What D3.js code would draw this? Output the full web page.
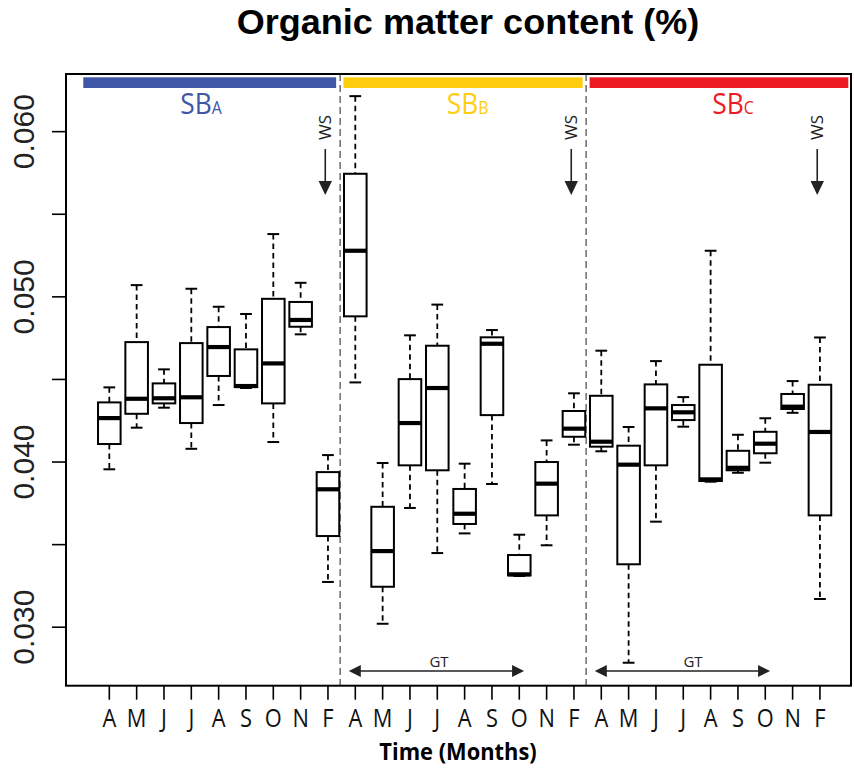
<!DOCTYPE html>
<html><head><meta charset="utf-8">
<script src="https://cdn.jsdelivr.net/npm/d3@7"></script>
<style>body{margin:0;background:#fff}</style>
</head><body>
<svg id="c" width="854" height="770"></svg>
<script>
// ---- data ----
const months = ["A","M","J","J","A","S","O","N","F"];
const sites = ["A","B","C"];
const siteColors = ["#3F57A6","#FDCD0E","#ED1C24"];
const whiskerLow  = [0.03953,0.04205,0.04326,0.04077,0.04342,0.04445,0.04118,0.04770,0.03271,
                     0.04479,0.03018,0.03719,0.03446,0.03565,0.03864,0.03307,0.03493,0.04102,
                     0.04062,0.02782,0.03636,0.04211,0.03878,0.03932,0.03993,0.04295,0.03168];
const q1          = [0.04106,0.04289,0.04352,0.04233,0.04518,0.04451,0.04352,0.04816,0.03549,
                     0.04879,0.03242,0.03977,0.03947,0.03622,0.04281,0.03311,0.03674,0.04150,
                     0.04090,0.03378,0.03977,0.04251,0.03882,0.03947,0.04050,0.04318,0.03674];
const median      = [0.04263,0.04380,0.04383,0.04389,0.04693,0.04457,0.04594,0.04857,0.03832,
                     0.05276,0.03458,0.04233,0.04445,0.03684,0.04713,0.03317,0.03866,0.04199,
                     0.04120,0.03981,0.04322,0.04298,0.03892,0.03962,0.04108,0.04332,0.04179];
const q3          = [0.04358,0.04723,0.04473,0.04717,0.04814,0.04679,0.04985,0.04966,0.03936,
                     0.05742,0.03726,0.04499,0.04701,0.03834,0.04752,0.03434,0.03997,0.04306,
                     0.04398,0.04096,0.04467,0.04342,0.04586,0.04065,0.04180,0.04409,0.04465];
const whiskerHigh = [0.04449,0.05068,0.04558,0.05046,0.04937,0.04893,0.05377,0.05082,0.04039,
                     0.06212,0.03991,0.04764,0.04950,0.03987,0.04796,0.03557,0.04128,0.04413,
                     0.04671,0.04209,0.04608,0.04390,0.05276,0.04162,0.04262,0.04487,0.04751];
const yTickValues = [0.030,0.035,0.040,0.045,0.050,0.055,0.060];
const yLabelValues = [0.030,0.040,0.050,0.060];
const title = "Organic matter content (%)";
const xTitle = "Time (Months)";

// ---- build ----
const categories = [];
sites.forEach((s,si)=>months.forEach((m,mi)=>categories.push({site:s, si, month:m, idx:si*months.length+mi})));
const boxes = categories.map((c,i)=>({...c, lo:whiskerLow[i], q1:q1[i], med:median[i], q3:q3[i], hi:whiskerHigh[i]}));

const svg = d3.select("#c");
const L = 66, R = 851, T = 74, B = 685.7;

const x = d3.scaleBand().domain(d3.range(categories.length)).range([95.65, 833.6]).paddingInner(0).paddingOuter(0);
const y = d3.scaleLinear().domain([0.02643, 0.06346]).range([B, T]);
const cx = i => x(i) + x.bandwidth()/2;
const boxW = x.bandwidth()*0.826, capW = x.bandwidth()*0.43;

// separators
const seps = [x(9)-1.5, x(18)-1.5];
svg.selectAll("line.sep").data(seps).join("line")
  .attr("x1",d=>d).attr("x2",d=>d).attr("y1",T).attr("y2",B)
  .attr("stroke","#555").attr("stroke-width",1.3).attr("stroke-dasharray","7,4");

// site colored bars
const barStart = [L+17.3, seps[0]+3.3, seps[1]+3.5];
const barEnd = [seps[0]-4, seps[1]-3.5, R-2.7];
svg.selectAll("rect.site").data(sites).join("rect")
  .attr("x",(d,i)=>barStart[i]).attr("width",(d,i)=>barEnd[i]-barStart[i])
  .attr("y",77.3).attr("height",10.7).attr("fill",(d,i)=>siteColors[i]);

const labelX = [201, 467.7, 733];
const sl = svg.selectAll("text.site").data(sites).join("text")
  .attr("transform",(d,i)=>`translate(${labelX[i]},114) scale(0.88,1)`)
  .attr("text-anchor","middle").attr("font-family","'Open Sans'")
  .attr("fill",(d,i)=>siteColors[i]);
sl.append("tspan").attr("font-size",30).text("SB");
sl.append("tspan").attr("font-size",18).text(d=>d);

// WS arrows
const wsIdx = [8,17,26];
const ws = svg.selectAll("g.ws").data(wsIdx).join("g").attr("transform",d=>`translate(${cx(d)-2.7},0)`);
ws.append("text").attr("transform","translate(6,127.5) rotate(-90)").attr("text-anchor","middle")
  .attr("font-family","'Open Sans'").attr("font-size",17).attr("fill","#222").text("WS");
ws.append("line").attr("x1",0).attr("x2",0).attr("y1",149).attr("y2",183).attr("stroke","#222").attr("stroke-width",1.6);
ws.append("path").attr("d","M-6.7,181 L6.7,181 L0,195 Z").attr("fill","#222");

// GT arrows
const gtRanges = [[9,15],[18,24]];
const gtTextX = [439, 693];
const gt = svg.selectAll("g.gt").data(gtRanges).join("g");
gt.each(function(d,i){
  const g = d3.select(this);
  const x1 = cx(d[0])-6.5, x2 = cx(d[1])+4.8, yy = 671;
  g.append("line").attr("x1",x1+8).attr("x2",x2-8).attr("y1",yy).attr("y2",yy).attr("stroke","#222").attr("stroke-width",1.6);
  g.append("path").attr("d",`M${x1},${yy} L${x1+12},${yy-6} L${x1+12},${yy+6} Z`).attr("fill","#222");
  g.append("path").attr("d",`M${x2},${yy} L${x2-12},${yy-6} L${x2-12},${yy+6} Z`).attr("fill","#222");
  g.append("text").attr("x",gtTextX[i]).attr("y",666.5).attr("text-anchor","middle")
    .attr("font-family","'Open Sans'").attr("font-size",15).attr("fill","#222").text("GT");
});

// boxes
const bg = svg.selectAll("g.box").data(boxes).join("g").attr("transform",d=>`translate(${cx(d.idx)},0)`);
bg.append("line").attr("y1",d=>y(d.hi)).attr("y2",d=>y(d.q3)).attr("stroke","#000").attr("stroke-width",1.8).attr("stroke-dasharray","5.5,4");
bg.append("line").attr("y1",d=>y(d.q1)).attr("y2",d=>y(d.lo)).attr("stroke","#000").attr("stroke-width",1.8).attr("stroke-dasharray","5.5,4");
bg.append("line").attr("x1",-capW/2).attr("x2",capW/2).attr("y1",d=>y(d.hi)).attr("y2",d=>y(d.hi)).attr("stroke","#000").attr("stroke-width",2);
bg.append("line").attr("x1",-capW/2).attr("x2",capW/2).attr("y1",d=>y(d.lo)).attr("y2",d=>y(d.lo)).attr("stroke","#000").attr("stroke-width",2);
bg.append("rect").attr("x",-boxW/2).attr("width",boxW).attr("y",d=>y(d.q3)).attr("height",d=>y(d.q1)-y(d.q3))
  .attr("fill","#fff").attr("stroke","#000").attr("stroke-width",2);
bg.append("line").attr("x1",-boxW/2).attr("x2",boxW/2).attr("y1",d=>y(d.med)).attr("y2",d=>y(d.med)).attr("stroke","#000").attr("stroke-width",4.2);

// frame
svg.append("rect").attr("x",L).attr("y",T).attr("width",R-L).attr("height",B-T).attr("fill","none").attr("stroke","#000").attr("stroke-width",2);

// y axis
const ya = svg.append("g").attr("transform",`translate(${L},0)`)
  .call(d3.axisLeft(y).tickValues(yTickValues).tickSize(14).tickFormat(d=>yLabelValues.some(v=>Math.abs(v-d)<1e-9)?d3.format(".3f")(d):""));
ya.select(".domain").remove();
ya.selectAll(".tick line").attr("stroke","#000").attr("stroke-width",1.6);
ya.selectAll(".tick text").attr("x",0).attr("dy",0).attr("text-anchor","middle")
  .attr("transform","translate(-32.5,0) rotate(-90)")
  .attr("font-family","'Liberation Sans', Arial, sans-serif").attr("font-size",30).attr("fill","#222");

// x axis
const xa = svg.append("g").attr("transform",`translate(0,${B})`)
  .call(d3.axisBottom(x).tickSize(14).tickFormat(i=>categories[i].month));
xa.select(".domain").remove();
xa.selectAll(".tick line").attr("stroke","#000").attr("stroke-width",1.6);
xa.selectAll(".tick text").attr("y",0).attr("dy",0)
  .attr("transform","translate(0,41.6) scale(0.84,1)")
  .attr("font-family","'Open Sans'").attr("font-size",26).attr("fill","#111");

// titles
svg.append("text").attr("transform","translate(468,34) scale(1.03,1)").attr("text-anchor","middle")
  .attr("font-family","'Liberation Sans', Arial, sans-serif").attr("font-weight","bold").attr("font-size",35).attr("fill","#000").text(title);
svg.append("text").attr("transform","translate(458,760) scale(0.93,1)").attr("text-anchor","middle")
  .attr("font-family","'Open Sans'").attr("font-weight","bold").attr("font-size",23.5).attr("fill","#000").text(xTitle);
</script>
</body></html>
